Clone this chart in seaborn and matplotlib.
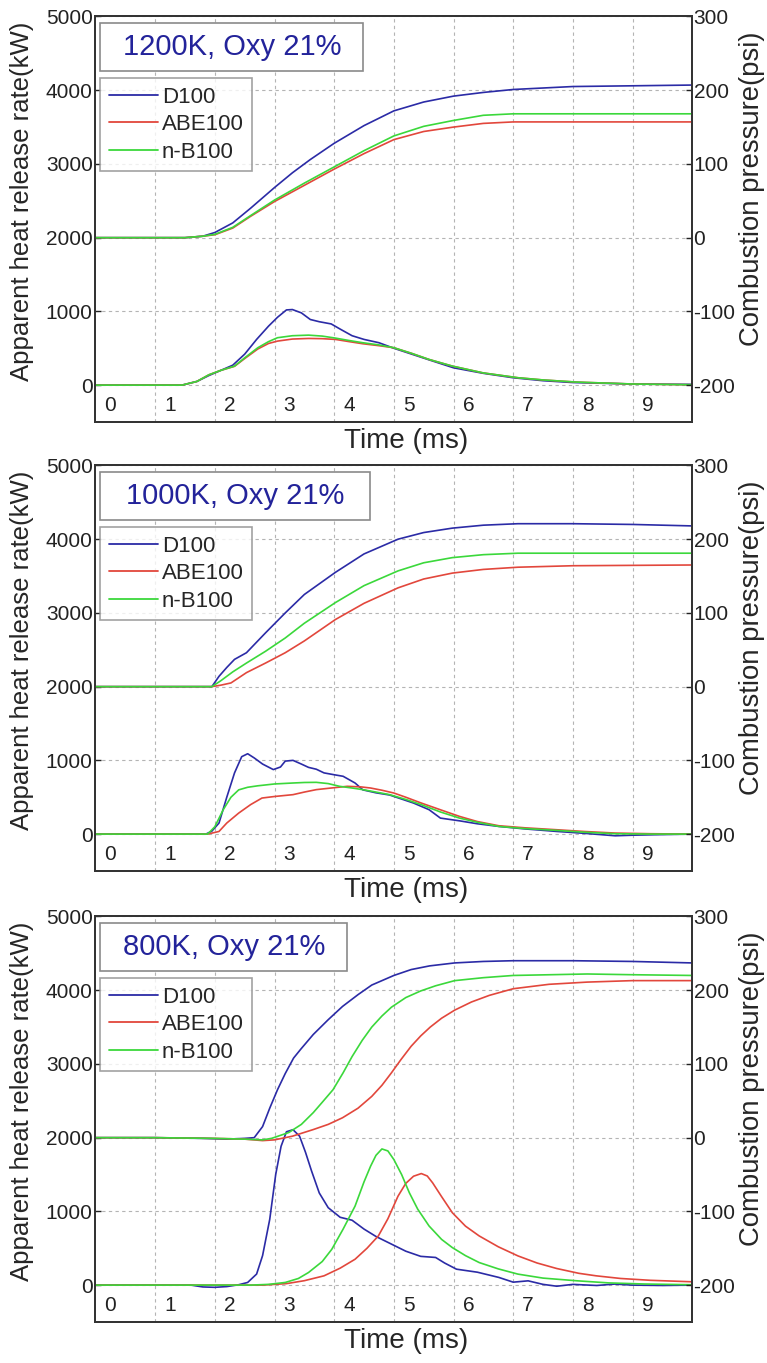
import numpy as np
import pandas as pd
import matplotlib
matplotlib.use('Agg')
import matplotlib.pyplot as plt
import seaborn as sns
from matplotlib.lines import Line2D
from matplotlib.patches import Rectangle

sns.set_theme(style='white')
plt.rcParams['font.family'] = ['Liberation Sans', 'DejaVu Sans']

# ---------------- data ----------------
FUELS = ['D100', 'ABE100', 'n-B100']
PANEL_TITLES = ['1200K, Oxy 21%', '1000K, Oxy 21%', '800K, Oxy 21%']
X_TICK_LABELS = ['0', '1', '2', '3', '4', '5', '6', '7', '8', '9']
LEFT_TICKS = [0, 1000, 2000, 3000, 4000, 5000]
RIGHT_TICKS = [-200, -100, 0, 100, 200, 300]

# ---- Panel 1: 1200K ----  pressure (psi)
p1_prs_D100_t = [0, 1.0, 1.5, 1.8, 2.0, 2.3, 2.6, 3.0, 3.3, 3.6, 4.0, 4.5, 5.0, 5.5, 6.0, 6.5, 7.0, 8.0, 9.0, 10.0]
p1_prs_D100 = [0, 0, 0, 2, 7, 20, 40, 68, 88, 106, 128, 152, 172, 184, 192, 197, 201, 205, 206, 207]
p1_prs_ABE_t = [0, 1.0, 1.5, 1.8, 2.0, 2.3, 2.6, 3.0, 3.5, 4.0, 4.5, 5.0, 5.5, 6.0, 6.5, 7.0, 8.0, 10.0]
p1_prs_ABE = [0, 0, 0, 2, 4, 13, 29, 49, 71, 93, 114, 133, 144, 150, 155, 157, 157, 157]
p1_prs_NB_t = [0, 1.0, 1.5, 1.8, 2.0, 2.3, 2.6, 3.0, 3.5, 4.0, 4.5, 5.0, 5.5, 6.0, 6.5, 7.0, 8.0, 10.0]
p1_prs_NB = [0, 0, 0, 2, 4.5, 14, 30, 51, 74, 96, 118, 138, 151, 159, 166, 168, 168, 168]
# heat release rate (kW)
p1_hrr_D100_t = [0, 1.0, 1.45, 1.7, 1.9, 2.1, 2.3, 2.5, 2.7, 2.9, 3.05, 3.2, 3.3, 3.45, 3.6, 3.75, 3.95,
                 4.1, 4.3, 4.5, 4.75, 5.0, 5.3, 5.6, 6.0, 6.5, 7.0, 7.5, 8.0, 9.0, 10.0]
p1_hrr_D100 = [0, 0, 0, 50, 130, 200, 270, 420, 620, 800, 920, 1020, 1025, 980, 890, 860, 830,
               760, 670, 620, 575, 500, 420, 340, 235, 160, 100, 60, 35, 15, 10]
p1_hrr_ABE_t = [0, 1.0, 1.45, 1.7, 1.9, 2.1, 2.33, 2.5, 2.72, 2.9, 3.05, 3.3, 3.57, 3.8, 4.02, 4.25, 4.48,
                4.75, 5.0, 5.3, 5.59, 5.98, 6.5, 7.08, 7.5, 8.06, 9.0, 10.0]
p1_hrr_ABE = [0, 0, 0, 50, 140, 200, 255, 360, 490, 565, 597, 625, 633, 630, 620, 590, 561,
              535, 507, 430, 348, 258, 165, 100, 70, 41, 15, 5]
p1_hrr_NB_t = [0, 1.0, 1.45, 1.7, 1.9, 2.1, 2.33, 2.5, 2.72, 2.9, 3.05, 3.3, 3.57, 3.8, 4.02, 4.25, 4.48,
               4.75, 5.0, 5.3, 5.59, 5.98, 6.5, 7.08, 7.5, 8.06, 9.0, 10.0]
p1_hrr_NB = [0, 0, 0, 50, 140, 200, 258, 370, 507, 590, 643, 670, 678, 665, 638, 605, 575,
             545, 507, 430, 348, 258, 165, 100, 70, 41, 15, 5]

# ---- Panel 2: 1000K ----
p2_prs_D100_t = [0, 1.0, 1.95, 2.07, 2.2, 2.33, 2.53, 2.85, 3.18, 3.5, 4.02, 4.5, 5.07, 5.5, 5.98, 6.5, 7.08, 8.0, 9.0, 10.0]
p2_prs_D100 = [0, 0, 0, 14, 26, 37, 46, 73, 100, 125, 155, 180, 200, 209, 215, 219, 221, 221, 220, 218]
p2_prs_ABE_t = [0, 1.0, 1.95, 2.1, 2.27, 2.53, 2.85, 3.18, 3.5, 4.02, 4.5, 5.07, 5.5, 5.98, 6.5, 7.08, 8.0, 10.0]
p2_prs_ABE = [0, 0, 0, 2, 5, 19, 32, 46, 62, 91, 113, 134, 146, 154, 159, 162, 164, 165]
p2_prs_NB_t = [0, 1.0, 1.95, 2.1, 2.3, 2.53, 2.85, 3.18, 3.5, 4.02, 4.5, 5.07, 5.5, 5.98, 6.5, 7.08, 8.0, 10.0]
p2_prs_NB = [0, 0, 0, 8, 20, 32, 48, 66, 86, 114, 137, 157, 168, 175, 179, 181, 181, 181]
p2_hrr_D100_t = [0, 1.0, 1.85, 1.95, 2.07, 2.2, 2.33, 2.45, 2.55, 2.66, 2.8, 2.98, 3.1, 3.18, 3.31, 3.45,
                 3.57, 3.7, 3.83, 4.0, 4.15, 4.35, 4.48, 4.7, 4.93, 5.15, 5.33, 5.59, 5.78, 6.1, 6.4,
                 6.76, 7.2, 7.73, 8.2, 8.71, 9.0, 9.36, 10.0]
p2_hrr_D100 = [0, 0, 0, 40, 150, 500, 830, 1050, 1090, 1033, 950, 875, 910, 990, 1000, 950,
               905, 880, 830, 805, 784, 693, 600, 560, 530, 470, 421, 331, 217, 180, 140,
               104, 70, 36, 10, -23, -15, -9, 0]
p2_hrr_ABE_t = [0, 1.0, 1.88, 2.07, 2.2, 2.4, 2.6, 2.79, 3.0, 3.31, 3.5, 3.7, 3.95, 4.22, 4.45, 4.61,
                4.8, 5.0, 5.2, 5.46, 5.78, 6.1, 6.4, 6.76, 7.2, 7.73, 8.2, 8.71, 9.3, 10.0]
p2_hrr_ABE = [0, 0, 0, 36, 150, 285, 400, 489, 510, 535, 570, 603, 625, 648, 640, 625,
              595, 557, 500, 421, 330, 240, 170, 113, 85, 59, 35, 14, 5, 0]
p2_hrr_NB_t = [0, 1.0, 1.88, 2.0, 2.14, 2.27, 2.4, 2.55, 2.72, 3.0, 3.31, 3.5, 3.7, 3.9, 4.09, 4.3,
               4.48, 4.7, 4.93, 5.2, 5.46, 5.78, 6.1, 6.4, 6.76, 7.2, 7.73, 8.2, 8.71, 9.3, 10.0]
p2_hrr_NB = [0, 0, 0, 100, 330, 500, 600, 635, 655, 680, 693, 700, 702, 685, 648, 625,
             603, 570, 535, 470, 399, 300, 217, 160, 104, 75, 50, 25, 5, 0, 0]

# ---- Panel 3: 800K ----
p3_prs_D100_t = [0, 1.0, 1.8, 2.2, 2.5, 2.66, 2.8, 2.92, 3.05, 3.18, 3.32, 3.44, 3.65, 3.9, 4.14, 4.4,
                 4.63, 5.0, 5.29, 5.6, 6.02, 6.5, 7.0, 8.0, 9.0, 10.0]
p3_prs_D100 = [0, 0, -1, -2, -1, 0, 15, 40, 65, 87, 108, 120, 140, 160, 178, 194,
               207, 220, 228, 233, 237, 239, 240, 240, 239, 237]
p3_prs_ABE_t = [0, 1.0, 2.0, 2.5, 2.8, 3.0, 3.3, 3.65, 3.9, 4.14, 4.4, 4.63, 4.8, 4.96, 5.12, 5.29,
                5.45, 5.61, 5.8, 6.02, 6.3, 6.6, 7.0, 7.6, 8.24, 9.0, 10.0]
p3_prs_ABE = [0, 0, -1, -2, -4, -3, 2, 11, 18, 27, 40, 56, 71, 88, 106, 124,
              138, 150, 162, 173, 184, 193, 202, 208, 211, 213, 213]
p3_prs_NB_t = [0, 1.0, 2.0, 2.5, 2.8, 2.95, 3.24, 3.45, 3.65, 3.8, 3.98, 4.15, 4.3, 4.47, 4.63, 4.8,
               4.96, 5.2, 5.45, 5.7, 6.02, 6.5, 7.0, 8.24, 9.0, 10.0]
p3_prs_NB = [0, 0, -1, -2, -3, -1, 7, 18, 34, 48, 65, 88, 110, 132, 150, 165,
             177, 190, 199, 206, 213, 217, 220, 222, 221, 220]
p3_hrr_D100_t = [0, 1.0, 1.6, 1.8, 2.0, 2.2, 2.4, 2.55, 2.7, 2.8, 2.92, 3.02, 3.11, 3.2, 3.31, 3.42,
                 3.52, 3.62, 3.75, 3.9, 4.1, 4.3, 4.5, 4.7, 4.95, 5.2, 5.45, 5.7, 5.85, 6.05, 6.4,
                 6.76, 7.0, 7.25, 7.5, 7.73, 8.0, 8.4, 8.7, 9.0, 9.5, 10.0]
p3_hrr_D100 = [0, 0, 0, -25, -30, -20, 5, 36, 150, 400, 892, 1500, 1883, 2080, 2108, 2020,
               1800, 1550, 1250, 1050, 920, 880, 760, 660, 560, 460, 390, 375, 300, 216, 175,
               104, 40, 58, 10, -15, 10, -5, 14, 0, -5, 0]
p3_hrr_ABE_t = [0, 1.0, 2.0, 2.8, 3.2, 3.5, 3.83, 4.1, 4.35, 4.55, 4.74, 4.9, 5.07, 5.2, 5.33, 5.46,
                5.56, 5.65, 5.8, 5.98, 6.2, 6.43, 6.75, 7.08, 7.4, 7.73, 8.1, 8.39, 8.8, 9.3, 10.0]
p3_hrr_ABE = [0, 0, 0, 0, 20, 60, 126, 230, 351, 500, 667, 900, 1207, 1380, 1477, 1513,
              1480, 1387, 1200, 982, 800, 667, 520, 396, 300, 225, 160, 126, 90, 65, 45]
p3_hrr_NB_t = [0, 1.0, 2.0, 2.6, 2.9, 3.18, 3.4, 3.57, 3.8, 3.96, 4.15, 4.35, 4.5, 4.61, 4.7, 4.8,
               4.9, 5.0, 5.13, 5.26, 5.4, 5.59, 5.8, 5.98, 6.2, 6.43, 6.75, 7.08, 7.5, 8.06, 8.6, 9.2, 10.0]
p3_hrr_NB = [0, 0, 0, 0, 10, 36, 90, 171, 320, 486, 760, 1072, 1400, 1613, 1760, 1847,
             1820, 1703, 1500, 1252, 1030, 802, 620, 509, 400, 306, 220, 149, 95, 59, 30, 15, 5]

# ---------------- styling ----------------
COLORS = {'D100': '#2b2ba6', 'ABE100': '#e2473c', 'n-B100': '#3bd83b'}
TITLE_COLOR = '#23239a'
GRID_COLOR = '#b4b4b4'


def long_df(series):
    rows = []
    for fuel, (t, v) in series.items():
        rows.append(pd.DataFrame({'time': t, 'value': v, 'fuel': fuel}))
    return pd.concat(rows, ignore_index=True)


panels = [
    dict(title=PANEL_TITLES[0],
         hrr={'D100': (p1_hrr_D100_t, p1_hrr_D100), 'ABE100': (p1_hrr_ABE_t, p1_hrr_ABE), 'n-B100': (p1_hrr_NB_t, p1_hrr_NB)},
         prs={'D100': (p1_prs_D100_t, p1_prs_D100), 'ABE100': (p1_prs_ABE_t, p1_prs_ABE), 'n-B100': (p1_prs_NB_t, p1_prs_NB)}),
    dict(title=PANEL_TITLES[1],
         hrr={'D100': (p2_hrr_D100_t, p2_hrr_D100), 'ABE100': (p2_hrr_ABE_t, p2_hrr_ABE), 'n-B100': (p2_hrr_NB_t, p2_hrr_NB)},
         prs={'D100': (p2_prs_D100_t, p2_prs_D100), 'ABE100': (p2_prs_ABE_t, p2_prs_ABE), 'n-B100': (p2_prs_NB_t, p2_prs_NB)}),
    dict(title=PANEL_TITLES[2],
         hrr={'D100': (p3_hrr_D100_t, p3_hrr_D100), 'ABE100': (p3_hrr_ABE_t, p3_hrr_ABE), 'n-B100': (p3_hrr_NB_t, p3_hrr_NB)},
         prs={'D100': (p3_prs_D100_t, p3_prs_D100), 'ABE100': (p3_prs_ABE_t, p3_prs_ABE), 'n-B100': (p3_prs_NB_t, p3_prs_NB)}),
]

fig = plt.figure(figsize=(7.67, 13.63), dpi=100)
fig.patch.set_facecolor('white')

AX_LEFT, AX_WIDTH, AX_HEIGHT = 0.1245, 0.778, 0.2975
bottoms = [0.6904, 0.3610, 0.0301]
title_box_w = [0.441, 0.452, 0.414]

for i, p in enumerate(panels):
    ax = fig.add_axes([AX_LEFT, bottoms[i], AX_WIDTH, AX_HEIGHT])
    ax.set_facecolor('white')
    ax2 = ax.twinx()

    dh = long_df(p['hrr'])
    dp = long_df(p['prs'])
    sns.lineplot(data=dh, x='time', y='value', hue='fuel', hue_order=FUELS, palette=COLORS,
                 estimator=None, sort=False, units='fuel', ax=ax, linewidth=1.2, legend=False)
    sns.lineplot(data=dp, x='time', y='value', hue='fuel', hue_order=FUELS, palette=COLORS,
                 estimator=None, sort=False, units='fuel', ax=ax2, linewidth=1.2, legend=False)

    ax.set_xlim(0, 10)
    ax.set_ylim(-500, 5000)
    ax2.set_ylim(-250, 300)
    ax.set_yticks(LEFT_TICKS)
    ax.set_yticklabels([str(v) for v in LEFT_TICKS])
    ax2.set_yticks(RIGHT_TICKS)
    ax2.set_yticklabels([str(v) for v in RIGHT_TICKS])
    ax.set_xticks(range(1, 10))
    ax.set_xticklabels([])

    ax.grid(True, color=GRID_COLOR, linestyle=(0, (3, 3)), linewidth=0.8)
    ax.tick_params(axis='both', direction='in', length=4, width=1, labelsize=15, colors='#222222', pad=2)
    ax2.tick_params(axis='y', direction='in', length=4, width=1, labelsize=15, colors='#222222', pad=1)
    for a in (ax, ax2):
        for s in a.spines.values():
            s.set_color('#333333')
            s.set_linewidth(1.3)
    ax2.grid(False)

    # x labels drawn inside the axes
    for k, lab in enumerate(X_TICK_LABELS):
        ax.text(k + 0.25, -270, lab, ha='center', va='center', fontsize=15, color='#222222')

    ax.set_xlabel('Time (ms)', fontsize=20, labelpad=2)
    ax.xaxis.set_label_coords(0.52, -0.014, transform=ax.transAxes)
    ax.xaxis.label.set_va('top')
    ax.set_ylabel('Apparent heat release rate(kW)', fontsize=18.5, labelpad=4)
    ax.yaxis.set_label_coords(-0.103, 0.545)
    ax2.set_ylabel('Combustion pressure(psi)', fontsize=19.8, labelpad=1)
    ax2.yaxis.set_label_coords(1.078, 0.575)

    # title box
    ax2.add_patch(Rectangle((0.008, 0.865), title_box_w[i], 0.118, transform=ax2.transAxes,
                            facecolor='white', edgecolor='#8a8a8a', linewidth=1.2, zorder=5))
    ax2.text(0.008 + title_box_w[i] / 2, 0.924, p['title'], transform=ax2.transAxes, ha='center',
             va='center', fontsize=21, color=TITLE_COLOR, zorder=6)

    handles = [Line2D([0], [0], color=COLORS[f], linewidth=1.3) for f in FUELS]
    leg = ax2.legend(handles, FUELS, loc='upper left', bbox_to_anchor=(0.008, 0.848),
                     bbox_transform=ax2.transAxes, borderaxespad=0, fontsize=16, frameon=True,
                     fancybox=False, edgecolor='#8a8a8a', handlelength=2.2, handletextpad=0.2,
                     labelspacing=0.3, borderpad=0.38)
    leg.get_frame().set_linewidth(1.2)
    leg.set_zorder(6)

fig.savefig('out.png', dpi=100, facecolor='white')
